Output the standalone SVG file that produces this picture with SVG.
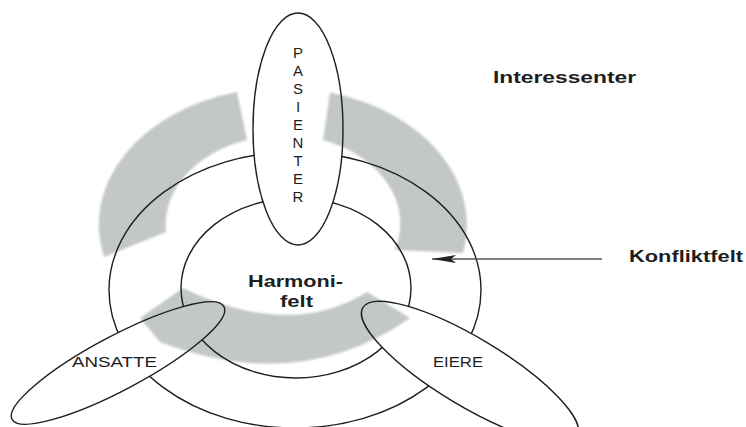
<svg xmlns="http://www.w3.org/2000/svg" width="746" height="427" viewBox="0 0 746 427">
<style>
.line{fill:none;stroke:#1e1e1e;stroke-width:1.4}
.band{fill:#c3c7c7}
.bold{font-family:"Liberation Sans",Arial,sans-serif;font-weight:bold;fill:#1e1e1e}
.reg{font-family:"Liberation Sans",Arial,sans-serif;fill:#1e1e1e}
.conn{stroke:#555;stroke-width:1.4;fill:none}
</style>
<defs>
<filter id="soft" x="-5%" y="-5%" width="110%" height="110%"><feGaussianBlur stdDeviation="1.3"/></filter>
<mask id="hide" maskUnits="userSpaceOnUse" x="0" y="0" width="746" height="427">
<rect width="746" height="427" fill="#fff"/>
<ellipse cx="298" cy="129" rx="45" ry="116" fill="#000"/>
<ellipse cx="0" cy="0" rx="120" ry="27" transform="translate(118,363) rotate(-28)" fill="#000"/>
<ellipse cx="0" cy="0" rx="125" ry="34" transform="translate(470,372) rotate(31)" fill="#000"/>
</mask>
<marker id="arr" viewBox="0 0 24 8" refX="24" refY="4" markerWidth="24" markerHeight="8" markerUnits="userSpaceOnUse" orient="auto">
<path d="M0,0 L24,4 L0,8 L5,4 Z" fill="#222"/>
</marker>
</defs>
<g id="band" filter="url(#soft)">
<path class="band" d="M237,92 A184,137 0 0 0 104,257 L166,232 A117,89 0 0 1 247,140 Z"/>
<path class="band" d="M330,92.5 A184,137 0 0 1 463,253 L395,250 A117,89 0 0 0 323,140 Z"/>
<path class="band" d="M183,288 Q290,340 367,292 L410,318 Q300,395 160,342 L140,318 Z"/>
</g>
<g id="fields" mask="url(#hide)">
<ellipse id="konfliktfelt-ring" class="line" cx="295" cy="290" rx="186" ry="138"/>
<ellipse id="harmonifelt-ring" class="line" cx="296" cy="288" rx="115" ry="90"/>
</g>
<g id="pasienter">
<ellipse class="line" cx="298" cy="129" rx="45" ry="116"/>
<g class="reg" font-size="15" text-anchor="middle">
<text x="298" y="58">P</text><text x="298" y="76">A</text><text x="298" y="94">S</text><text x="298" y="112">I</text><text x="298" y="130">E</text><text x="298" y="148">N</text><text x="298" y="166">T</text><text x="298" y="184">E</text><text x="298" y="202">R</text>
</g>
</g>
<g id="ansatte">
<ellipse class="line" cx="0" cy="0" rx="120" ry="27" transform="translate(118,363) rotate(-28)"/>
<text class="reg" x="72" y="367" font-size="15" textLength="85" lengthAdjust="spacingAndGlyphs">ANSATTE</text>
</g>
<g id="eiere">
<ellipse class="line" cx="0" cy="0" rx="125" ry="34" transform="translate(470,372) rotate(31)"/>
<text class="reg" x="433" y="367" font-size="15" textLength="50" lengthAdjust="spacingAndGlyphs">EIERE</text>
</g>
<g id="harmonifelt">
<text class="bold" x="248" y="287" font-size="16" textLength="95" lengthAdjust="spacingAndGlyphs">Harmoni-</text>
<text class="bold" x="280" y="307" font-size="16" textLength="33" lengthAdjust="spacingAndGlyphs">felt</text>
</g>
<g id="interessenter">
<text class="bold" x="493" y="83" font-size="16" textLength="143" lengthAdjust="spacingAndGlyphs">Interessenter</text>
</g>
<g id="konfliktfelt">
<text class="bold" x="629" y="262" font-size="17" textLength="114" lengthAdjust="spacingAndGlyphs">Konfliktfelt</text>
</g>
<g id="connectors">
<line class="conn" x1="602" y1="259" x2="432" y2="259" marker-end="url(#arr)"/>
</g>
</svg>
